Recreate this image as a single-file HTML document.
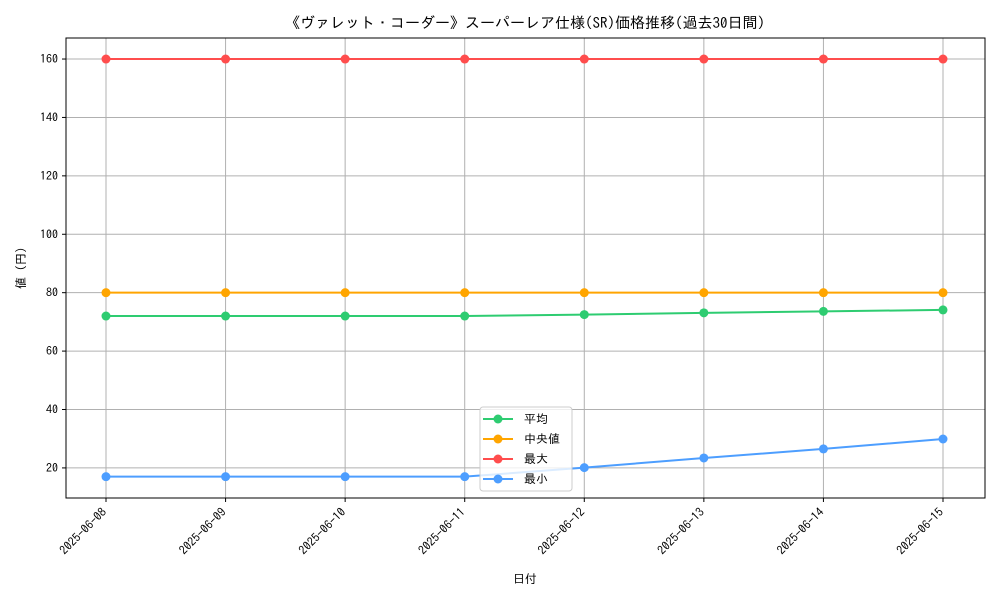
<!DOCTYPE html>
<html><head><meta charset="utf-8"><style>
body{margin:0;background:#fff;font-family:"IPAGothic","Liberation Sans","Noto Sans CJK JP",sans-serif;}
svg text{font-family:"IPAGothic","Liberation Sans","Noto Sans CJK JP",sans-serif;fill:#000;}
</style></head><body>
<svg id="chart" width="1000" height="600" xmlns="http://www.w3.org/2000/svg">
<rect width="1000" height="600" fill="#fff"/>
<text x="525" y="28" font-size="15" text-anchor="middle">《ヴァレット・コーダー》スーパーレア仕様(SR)価格推移(過去30日間)</text>
<g id="grid"></g>
<g id="axes"></g>
<g id="series"></g>
<text x="525" y="583" font-size="12" text-anchor="middle">日付</text>
<text x="25" y="268" font-size="12" text-anchor="middle" transform="rotate(-90 25 268)">値 (円)</text>
<g id="legend"></g>
</svg>
<script>
const categories=["2025-06-08","2025-06-09","2025-06-10","2025-06-11","2025-06-12","2025-06-13","2025-06-14","2025-06-15"];
const avgValues=[72,72,72,72,72.5,73.1,73.6,74.1];
const medianValues=[80,80,80,80,80,80,80,80];
const maxValues=[160,160,160,160,160,160,160,160];
const minValues=[17,17,17,17,20.1,23.4,26.5,29.9];
const yTicks=[20,40,60,80,100,120,140,160];
const seriesNames=["平均","中央値","最大","最小"];
const colors=["#2ecc71","#ffa500","#ff4d4d","#4d9eff"];
const NS="http://www.w3.org/2000/svg";
const L=66,R=985,T=38,B=498;
const yMin=9.7,yMax=167.2;
function x(i){return 106+i*(943-106)/(categories.length-1);}
function y(v){return B-(v-yMin)/(yMax-yMin)*(B-T);}
function mk(tag,attrs,parent){const e=document.createElementNS(NS,tag);for(const k in attrs)e.setAttribute(k,attrs[k]);parent.appendChild(e);return e;}
const grid=document.getElementById('grid'),axes=document.getElementById('axes'),ser=document.getElementById('series'),leg=document.getElementById('legend');
categories.forEach((c,i)=>{
 const g=mk('line',{x1:x(i),x2:x(i),y1:T,y2:B,stroke:'#b0b0b0','stroke-width':1},grid);
 
 
 mk('line',{x1:x(i),x2:x(i),y1:B,y2:B+4,stroke:'#000'},axes);
 const t=mk('text',{x:x(i),y:B+12,'font-size':12,'text-anchor':'end',transform:`rotate(-45 ${x(i)+4} ${B+12})`},axes);
 t.textContent=c;
 
 
});
yTicks.forEach(v=>{
 const g=mk('line',{x1:L,x2:R,y1:y(v),y2:y(v),stroke:'#b0b0b0','stroke-width':1},grid);
 
 
 mk('line',{x1:L-4,x2:L,y1:y(v),y2:y(v),stroke:'#000'},axes);
 const t=mk('text',{x:L-8,y:y(v)+4,'font-size':12,'text-anchor':'end'},axes);
 t.textContent=v;
 
 
});
const frame=mk('rect',{x:L,y:T,width:R-L,height:B-T,fill:'none',stroke:'#000','stroke-width':1},axes);


[avgValues,medianValues,maxValues,minValues].forEach((vals,s)=>{
 const p=mk('polyline',{points:vals.map((v,i)=>x(i)+','+y(v)).join(' '),fill:'none',stroke:colors[s],'stroke-width':2},ser);
 
 
 vals.forEach((v,i)=>{
  const c=mk('circle',{cx:x(i),cy:y(v),r:4.5,fill:colors[s]},ser);
  
  
 });
});
const lb=mk('rect',{x:480,y:407,width:92,height:84,fill:'#fff','fill-opacity':0.8,stroke:'#ccc',rx:3},leg);


seriesNames.forEach((n,s)=>{
 const yy=419+s*20;
 mk('line',{x1:483,x2:513,y1:yy,y2:yy,stroke:colors[s],'stroke-width':2},leg);
 mk('circle',{cx:498,cy:yy,r:4.5,fill:colors[s]},leg);
 const t=mk('text',{x:524,y:yy+4,'font-size':12},leg);
 t.textContent=n;
 
 
});
</script>
</body></html>
